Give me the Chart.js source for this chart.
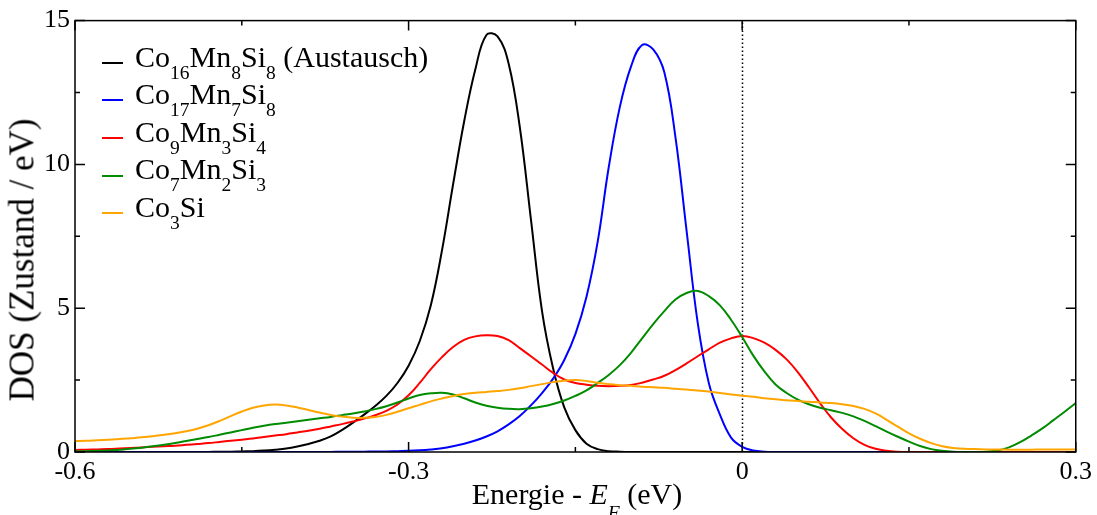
<!DOCTYPE html>
<html>
<head>
<meta charset="utf-8">
<script src="https://cdn.jsdelivr.net/npm/chart.js@4/dist/chart.umd.min.js"></script>
<style>
  html, body { margin: 0; padding: 0; background: #fff; }
  #wrap { position: relative; width: 1097px; height: 515px; font-family: "Liberation Serif", "Times New Roman", serif; color: #000; }
  #wrap canvas { position: absolute; left: 0; top: 0; }
  .leg-row { position: absolute; left: 135px; height: 30px; line-height: 30px; font-size: 30px; white-space: nowrap; }
  .leg-line { position: absolute; left: 102px; width: 21px; height: 2px; }
  sub { font-size: 0.65em; vertical-align: -0.59em; line-height: 0; }
  #xtitle { position: absolute; left: 577px; top: 479px; transform: translateX(-50%); font-size: 30px; line-height: 30px; white-space: nowrap; }
  #xtitle sub { vertical-align: -0.75em; }
  #ytitle { position: absolute; left: 22px; top: 260px; transform: translate(-50%, -50%) rotate(-90deg); font-size: 35px; line-height: 35px; white-space: nowrap; }
</style>
</head>
<body>
<div id="wrap">
  <canvas id="chart" width="1097" height="515"></canvas>
  <div id="legend"></div>
  <div id="xtitle">Energie - <i>E</i><sub><i>F</i></sub> (eV)</div>
  <div id="ytitle">DOS (Zustand / eV)</div>
</div>
<script>
// --- Data ---
const energy = [
  -0.6, -0.59, -0.58, -0.57, -0.56, -0.55, -0.54, -0.53, -0.52, -0.51,
  -0.5, -0.49, -0.48, -0.47, -0.46, -0.45, -0.44, -0.43, -0.42, -0.41,
  -0.4, -0.39, -0.38, -0.37, -0.36, -0.35, -0.34, -0.33, -0.32, -0.31,
  -0.3, -0.29, -0.28, -0.27, -0.26, -0.25, -0.24, -0.23, -0.22, -0.21,
  -0.2, -0.19, -0.18, -0.17, -0.16, -0.15, -0.14, -0.13, -0.12, -0.11,
  -0.1, -0.09, -0.08, -0.07, -0.06, -0.05, -0.04, -0.03, -0.02, -0.01,
  0, 0.01, 0.02, 0.03, 0.04, 0.05, 0.06, 0.07, 0.08, 0.09,
  0.1, 0.11, 0.12, 0.13, 0.14, 0.15, 0.16, 0.17, 0.18, 0.19,
  0.2, 0.21, 0.22, 0.23, 0.24, 0.25, 0.26, 0.27, 0.28, 0.29, 0.3
];

const dosCo16Mn8Si8 = [
  0, 0, 0, 0, 0, 0, 0, 0, 0, 0,
  0, 0, 0, 0.01, 0.01, 0.02, 0.03, 0.05, 0.08, 0.12,
  0.19, 0.28, 0.39, 0.54, 0.76, 1.02, 1.3, 1.6, 1.95, 2.4,
  3.0, 3.85, 5.1, 7.0, 9.3, 11.5, 13.3, 14.5, 14.45, 13.5,
  11.3, 8.1, 4.9, 2.9, 1.55, 0.76, 0.29, 0.1, 0.03, 0.01,
  0, 0, 0, 0, 0, 0, 0, 0, 0, 0,
  0, 0, 0, 0, 0, 0, 0, 0, 0, 0,
  0, 0, 0, 0, 0, 0, 0, 0, 0, 0,
  0, 0, 0, 0, 0, 0, 0, 0, 0, 0, 0
];

const dosCo17Mn7Si8 = [
  0, 0, 0, 0, 0, 0, 0, 0, 0, 0,
  0, 0, 0, 0, 0, 0, 0, 0, 0, 0,
  0, 0, 0, 0, 0.01, 0.01, 0.01, 0.02, 0.02, 0.03,
  0.04, 0.06, 0.09, 0.13, 0.2, 0.29, 0.4, 0.54, 0.72, 0.96,
  1.25, 1.62, 2.05, 2.55, 3.2, 4.1, 5.4, 7.3, 9.9, 12.0,
  13.4, 14.15, 14.0, 13.2, 10.95, 7.7, 4.5, 2.4, 1.3, 0.5,
  0.18, 0.05, 0.01, 0, 0, 0, 0, 0, 0, 0,
  0, 0, 0, 0, 0, 0, 0, 0, 0, 0,
  0, 0, 0, 0, 0, 0, 0, 0, 0, 0, 0
];

const dosCo9Mn3Si4 = [
  0.07, 0.08, 0.09, 0.1, 0.12, 0.14, 0.16, 0.18, 0.2, 0.22,
  0.25, 0.28, 0.31, 0.35, 0.39, 0.43, 0.47, 0.52, 0.57, 0.62,
  0.68, 0.74, 0.81, 0.89, 0.97, 1.06, 1.16, 1.28, 1.43, 1.65,
  1.97, 2.4, 2.88, 3.3, 3.65, 3.9, 4.02, 4.06, 4.03, 3.89,
  3.61, 3.33, 3.04, 2.75, 2.52, 2.4, 2.34, 2.3, 2.29, 2.3,
  2.33, 2.41, 2.52, 2.65, 2.85, 3.08, 3.33, 3.57, 3.8, 3.95,
  4.03, 3.96, 3.8, 3.55, 3.22, 2.78, 2.25, 1.7, 1.2, 0.8,
  0.48, 0.25, 0.11, 0.04, 0.01, 0, 0, 0, 0, 0,
  0, 0, 0, 0, 0, 0, 0, 0, 0, 0, 0
];

const dosCo7Mn2Si3 = [
  0.02, 0.03, 0.04, 0.05, 0.08, 0.11, 0.15, 0.2, 0.25, 0.31,
  0.38, 0.45, 0.52, 0.6, 0.68, 0.76, 0.84, 0.91, 0.97, 1.02,
  1.07, 1.12, 1.17, 1.22, 1.28, 1.34, 1.41, 1.49, 1.59, 1.72,
  1.86, 1.98, 2.04, 2.06, 2.0, 1.87, 1.72, 1.61, 1.54, 1.5,
  1.49, 1.52, 1.58, 1.67, 1.79, 1.95, 2.14, 2.4, 2.68, 3.02,
  3.45, 3.95, 4.45, 4.9, 5.3, 5.53, 5.6, 5.42, 5.1, 4.6,
  4.0, 3.35, 2.8, 2.35, 2.05, 1.82, 1.66, 1.54, 1.45, 1.36,
  1.24, 1.08, 0.9, 0.71, 0.53, 0.36, 0.21, 0.1, 0.04, 0.01,
  0, 0, 0.01, 0.05, 0.16, 0.34, 0.57, 0.82, 1.11, 1.4, 1.7
];

const dosCo3Si = [
  0.38, 0.39, 0.41, 0.43, 0.45, 0.48, 0.51, 0.55, 0.6, 0.65,
  0.72, 0.81, 0.93, 1.08, 1.25, 1.41, 1.54, 1.62, 1.65, 1.62,
  1.55, 1.46, 1.37, 1.29, 1.23, 1.19, 1.19, 1.22, 1.29, 1.4,
  1.52, 1.64, 1.76, 1.86, 1.95, 2.02, 2.06, 2.09, 2.12, 2.16,
  2.22, 2.29, 2.36, 2.43, 2.48, 2.5, 2.47, 2.41, 2.36, 2.32,
  2.3, 2.27, 2.25, 2.23, 2.2, 2.17, 2.14, 2.1, 2.05, 2.0,
  1.96, 1.92, 1.87, 1.83, 1.8, 1.77, 1.75, 1.72, 1.7, 1.66,
  1.6, 1.5, 1.34, 1.12, 0.88, 0.65, 0.46, 0.31, 0.2, 0.14,
  0.11, 0.1, 0.09, 0.09, 0.08, 0.08, 0.08, 0.09, 0.09, 0.09, 0.09
];

const seriesNames = ['Co16Mn8Si8 (Austausch)', 'Co17Mn7Si8', 'Co9Mn3Si4', 'Co7Mn2Si3', 'Co3Si'];
const seriesColors = ['#000000', '#0000ff', '#ff0000', '#008b00', '#ffa500'];
const seriesValues = [dosCo16Mn8Si8, dosCo17Mn7Si8, dosCo9Mn3Si4, dosCo7Mn2Si3, dosCo3Si];

const xTicks = [-0.6, -0.3, 0, 0.3];
const yTicks = [0, 5, 10, 15];
const xMinorTicks = [-0.45, -0.15, 0.15];
const yMinorTicks = [2.5, 7.5, 12.5];
const fermiLevel = 0;

// --- Frame, inward ticks and Fermi level line ---
const framePlugin = {
  id: 'frame',
  beforeDatasetsDraw(chart) {
    const { ctx, chartArea: a, scales: { x } } = chart;
    const px = Math.round(x.getPixelForValue(fermiLevel)) + 0.5;
    ctx.save();
    ctx.strokeStyle = '#000';
    ctx.lineWidth = 1.5;
    ctx.setLineDash([1.5, 2.5]);
    ctx.beginPath();
    ctx.moveTo(px, a.bottom);
    ctx.lineTo(px, a.top);
    ctx.stroke();
    ctx.restore();
  },
  afterDatasetsDraw(chart) {
    const { ctx, chartArea: a, scales: { x, y } } = chart;
    ctx.save();
    ctx.strokeStyle = '#000';
    ctx.lineWidth = 1.5;
    ctx.strokeRect(a.left, a.top, a.right - a.left, a.bottom - a.top);

    const tickX = (vals, len) => {
      vals.forEach(v => {
        const px = x.getPixelForValue(v);
        ctx.beginPath();
        ctx.moveTo(px, a.bottom); ctx.lineTo(px, a.bottom - len);
        ctx.moveTo(px, a.top); ctx.lineTo(px, a.top + len);
        ctx.stroke();
      });
    };
    const tickY = (vals, len) => {
      vals.forEach(v => {
        const py = y.getPixelForValue(v);
        ctx.beginPath();
        ctx.moveTo(a.left, py); ctx.lineTo(a.left + len, py);
        ctx.moveTo(a.right, py); ctx.lineTo(a.right - len, py);
        ctx.stroke();
      });
    };
    tickX(xTicks, 10);
    tickX(xMinorTicks, 5);
    tickY(yTicks, 10);
    tickY(yMinorTicks, 5);
    ctx.restore();
  }
};

const tickFont = { family: 'Liberation Serif', size: 26 };

const chart = new Chart(document.getElementById('chart'), {
  type: 'line',
  data: {
    datasets: seriesNames.map((name, i) => ({
      label: name,
      data: energy.map((e, j) => ({ x: e, y: seriesValues[i][j] })),
      borderColor: seriesColors[i],
      borderWidth: 2,
      pointRadius: 0,
      tension: 0.4,
      fill: false,
      order: seriesNames.length - i
    }))
  },
  options: {
    responsive: false,
    animation: false,
    layout: { padding: { top: 20, right: 17, left: 0, bottom: 0 } },
    plugins: {
      legend: { display: false },
      tooltip: { enabled: false }
    },
    scales: {
      x: {
        type: 'linear',
        min: -0.6,
        max: 0.3,
        grid: { display: false, drawTicks: false },
        border: { display: false },
        afterBuildTicks: s => { s.ticks = xTicks.map(v => ({ value: v })); },
        afterFit: s => { s.height = 63; },
        ticks: {
          color: '#000',
          font: tickFont,
          padding: 5,
          maxRotation: 0,
          callback: v => {
            const r = Math.round(v * 10) / 10;
            return r === 0 ? '0' : String(r);
          }
        }
      },
      y: {
        min: 0,
        max: 15,
        grid: { display: false, drawTicks: false },
        border: { display: false },
        afterBuildTicks: s => { s.ticks = yTicks.map(v => ({ value: v })); },
        afterFit: s => { s.width = 75; },
        ticks: { color: '#000', font: tickFont, padding: 5 }
      }
    }
  },
  plugins: [framePlugin]
});

// --- HTML legend with subscripts ---
const legend = document.getElementById('legend');
seriesNames.forEach((name, i) => {
  const line = document.createElement('div');
  line.className = 'leg-line';
  line.style.top = (61.7 + 37.6 * i) + 'px';
  line.style.background = seriesColors[i];
  legend.appendChild(line);

  const row = document.createElement('div');
  row.className = 'leg-row';
  row.style.top = (41.6 + 37.6 * i) + 'px';
  row.innerHTML = name.replace(/(\d+)/g, '<sub>$1</sub>');
  legend.appendChild(row);
});
</script>
</body>
</html>
